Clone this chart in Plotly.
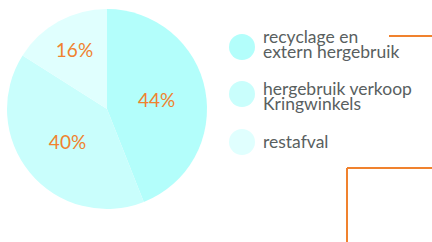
import plotly.graph_objects as go

labels = ["recyclage en<br>extern hergebruik", "hergebruik verkoop<br>Kringwinkels", "restafval"]
values = [44, 40, 16]
colors = ["#b3fefb", "#c9fefc", "#e0fffe"]
orange = "#f0822e"
gray = "#595f5f"
W, H = 432, 242

fig = go.Figure()
fig.add_trace(go.Pie(
    labels=labels, values=values, sort=False, direction="clockwise", rotation=0,
    marker=dict(colors=colors, line=dict(width=0)),
    texttemplate="%{value}%", textposition="inside", insidetextorientation="horizontal",
    textfont=dict(family="Lato", size=19, color=orange),
    domain=dict(x=[7 / W, 207 / W], y=[(H - 209) / H, (H - 9) / H]),
    showlegend=False, hoverinfo="skip",
))

shapes = []
annotations = []
circle_y = [47, 94, 142]
first_line_y = [36.5, 88, 141.5]
line_gap = 15
for lab, col, yc, y0 in zip(labels, colors, circle_y, first_line_y):
    shapes.append(dict(type="circle", xref="paper", yref="paper",
                       x0=(242 - 13) / W, x1=(242 + 13) / W,
                       y0=(H - yc - 13) / H, y1=(H - yc + 13) / H,
                       fillcolor=col, line=dict(width=0)))
    for i, line in enumerate(lab.split("<br>")):
        annotations.append(dict(text=line, xref="paper", yref="paper", x=261 / W,
                                y=(H - (y0 + i * line_gap)) / H,
                                xanchor="left", yanchor="middle", align="left", showarrow=False,
                                font=dict(family="Lato", size=17.5, color=gray)))

# decorative orange lines
shapes.append(dict(type="line", xref="paper", yref="paper", x0=389 / W, x1=1, y0=(H - 36) / H, y1=(H - 36) / H,
                   line=dict(color=orange, width=2)))
shapes.append(dict(type="line", xref="paper", yref="paper", x0=347 / W, x1=1, y0=(H - 168) / H, y1=(H - 168) / H,
                   line=dict(color=orange, width=2)))
shapes.append(dict(type="line", xref="paper", yref="paper", x0=347 / W, x1=347 / W, y0=0, y1=(H - 168) / H,
                   line=dict(color=orange, width=2)))

fig.update_layout(width=W, height=H, margin=dict(l=0, r=0, t=0, b=0),
                  paper_bgcolor="white", plot_bgcolor="white",
                  shapes=shapes, annotations=annotations)
fig.write_html("out.html", config={"displayModeBar": False},
               post_script="document.body.style.margin='0';document.body.style.overflow='hidden';")
